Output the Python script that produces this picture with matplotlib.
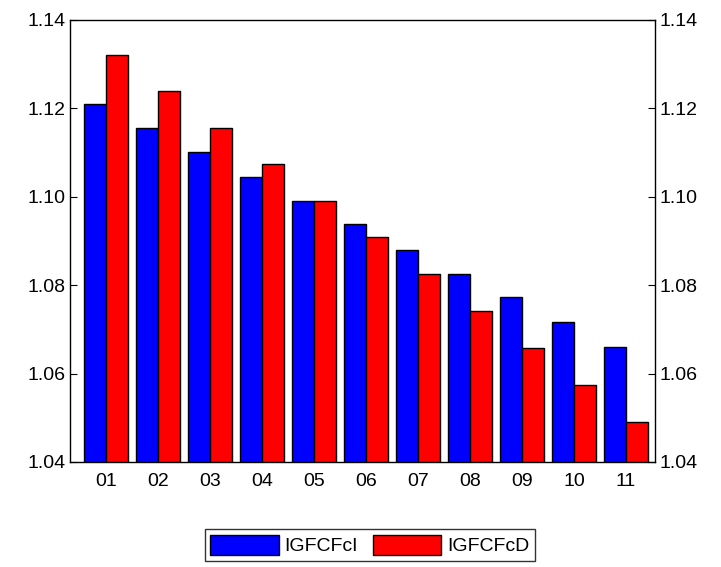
import matplotlib
matplotlib.use("Agg")
import matplotlib.pyplot as plt
import numpy as np

plt.rcParams['font.family'] = ['Liberation Sans', 'DejaVu Sans']

labels = ["01", "02", "03", "04", "05", "06", "07", "08", "09", "10", "11"]
igfcfci = [1.1210, 1.1156, 1.1101, 1.1045, 1.0990, 1.0938, 1.0880, 1.0825, 1.0773, 1.0717, 1.0660]
igfcfcd = [1.1321, 1.1239, 1.1156, 1.1074, 1.0990, 1.0909, 1.0825, 1.0742, 1.0658, 1.0574, 1.0490]

fig = plt.figure(figsize=(7.21, 5.67), dpi=100)
ax = fig.add_axes([70/721, 1-462/567, 585/721, 442/567])

x = np.arange(len(labels))
w = 0.42
ax.bar(x - w/2, igfcfci, w, color='#0000ff', edgecolor='black', linewidth=1, label='IGFCFcI')
ax.bar(x + w/2, igfcfcd, w, color='#ff0000', edgecolor='black', linewidth=1, label='IGFCFcD')

ax.set_ylim(1.04, 1.14)
ax.set_xlim(-0.69, 10.56)
ax.set_xticks(x)
ax.set_xticklabels(labels)
ax.set_yticks(np.arange(1.04, 1.1401, 0.02))
ax.set_yticklabels(["%.2f" % v for v in np.arange(1.04, 1.1401, 0.02)])
ax.tick_params(axis='y', direction='in', right=True, labelright=True, labelsize=14, length=5)
ax.tick_params(axis='x', length=0, labelsize=14, pad=8)
for s in ax.spines.values():
    s.set_linewidth(1)

fig.legend(loc='center', bbox_to_anchor=(370/721, 1-545/567), ncol=2, fontsize=14,
           frameon=True, fancybox=False, edgecolor='black', handlelength=3.5,
           handleheight=1.2, columnspacing=0.8, handletextpad=0.3, borderpad=0.3)

fig.savefig("out.png")
